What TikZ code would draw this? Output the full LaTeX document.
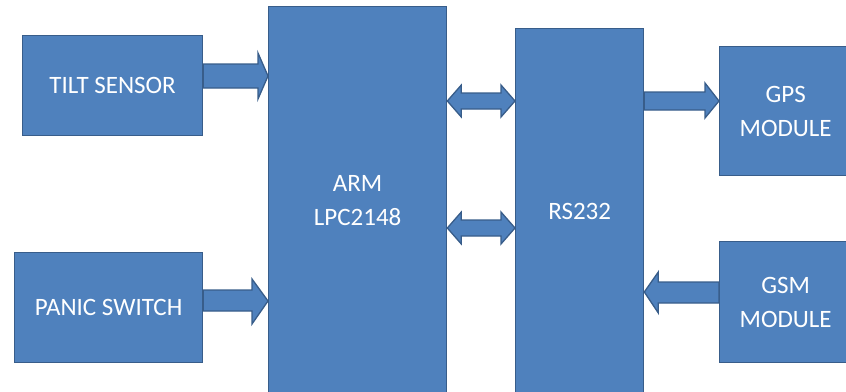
\documentclass[tikz,border=0pt]{standalone}
\usepackage{fontspec}
\setmainfont{Carlito}
\usetikzlibrary{calc}
\definecolor{boxfill}{HTML}{4F81BD}
\definecolor{boxline}{HTML}{385D8A}
\begin{document}
\begin{tikzpicture}[x=1pt,y=1pt,
  blk/.style={draw=boxline, fill=boxfill, line width=1.3pt, anchor=north west,
    inner sep=0pt, text=white, align=center,
    font=\fontsize{25}{34}\selectfont},
  arr/.style={draw=boxline, fill=boxfill, line width=1.3pt, line join=miter}]
\useasboundingbox (0,0) rectangle (846,-391);
\node[blk, minimum width=180, minimum height=100] (tilt) at (22,-35) {TILT SENSOR};
\node[blk, minimum width=188, minimum height=110] (panic) at (14,-252) {PANIC SWITCH};
\node[blk, minimum width=178, minimum height=388] (arm) at (268,-6) {ARM\\LPC2148};
\node[blk, minimum width=128, minimum height=366] (rs) at (515,-28) {RS232};
\node[blk, minimum width=132, minimum height=129] (gps) at (719,-46) {GPS\\MODULE};
\node[blk, minimum width=132, minimum height=121] (gsm) at (719,-241) {GSM\\MODULE};
% right arrows
\draw[arr] let \p1=(tilt.east), \p2=(arm.west) in
  (\x1,-64) -- (\x2-10,-64) -- (\x2-10,-53) -- (\x2,-76) -- (\x2-10,-99) -- (\x2-10,-88) -- (\x1,-88) -- cycle;
\draw[arr] let \p1=(panic.east), \p2=(arm.west) in
  (\x1,-290) -- (\x2-16,-290) -- (\x2-16,-279) -- (\x2,-301) -- (\x2-16,-324) -- (\x2-16,-311) -- (\x1,-311) -- cycle;
\draw[arr] let \p1=(rs.east), \p2=(gps.west) in
  (\x1,-92) -- (\x2-14,-92) -- (\x2-14,-83) -- (\x2,-101) -- (\x2-14,-118) -- (\x2-14,-110) -- (\x1,-110) -- cycle;
% left arrow
\draw[arr] let \p1=(gsm.west), \p2=(rs.east) in
  (\x1,-282) -- (\x2+14,-282) -- (\x2+14,-272) -- (\x2,-292) -- (\x2+14,-313) -- (\x2+14,-303) -- (\x1,-303) -- cycle;
% double arrows
\foreach \yc in {101,228}{
\draw[arr] let \p1=(arm.east), \p2=(rs.west) in
  (\x1,-\yc) -- (\x1+14,-\yc+16) -- (\x1+14,-\yc+8) -- (\x2-14,-\yc+8) -- (\x2-14,-\yc+16) -- (\x2,-\yc)
  -- (\x2-14,-\yc-16) -- (\x2-14,-\yc-8) -- (\x1+14,-\yc-8) -- (\x1+14,-\yc-16) -- cycle;
}
\end{tikzpicture}
\end{document}
